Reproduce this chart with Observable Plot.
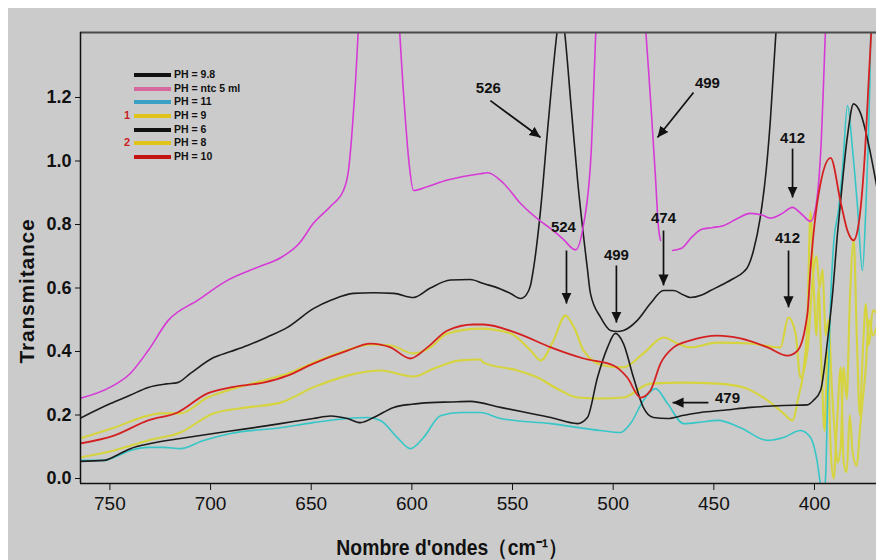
<!DOCTYPE html>
<html><head><meta charset="utf-8">
<script src="https://cdn.jsdelivr.net/npm/d3@7"></script>
<script src="https://cdn.jsdelivr.net/npm/@observablehq/plot@0.6"></script>
<style>
body{margin:0;background:#fff;}
#wrap{position:relative;width:876px;height:560px;overflow:hidden;
 background:linear-gradient(to bottom,#fff 8px,transparent 8px),linear-gradient(to right,#fff 8px,#cbcbcb 8px);
 font-family:"Liberation Sans",Arial,sans-serif;color:#111;}
#wrap svg{position:absolute;left:0;top:0;background:transparent;}
.ytitle{position:absolute;left:27px;top:291px;transform:translate(-50%,-50%) rotate(-90deg);font-weight:bold;font-size:21px;letter-spacing:0.8px;white-space:nowrap;}
.xtitle{position:absolute;left:452px;top:547px;transform:translate(-50%,-50%) scaleX(0.88);font-weight:bold;font-size:22px;white-space:nowrap;}
.legend{position:absolute;left:124px;top:68px;font-weight:bold;font-size:10.5px;}
.legend .row{position:relative;height:13.7px;}
.legend .num{position:absolute;left:0;top:0;color:#c81e1e;font-size:11px;line-height:13.7px;}
.legend .sw{position:absolute;left:10px;top:5px;width:37px;height:4px;}
.legend .lab{position:absolute;left:50px;top:0;line-height:13.7px;white-space:nowrap;}
</style></head>
<body>
<div id="wrap"></div>
<script>
// ---- data ----
const xTicks = [750, 700, 650, 600, 550, 500, 450, 400];
const yTicks = [0, 0.2, 0.4, 0.6, 0.8, 1.0, 1.2];
const seriesNames = ["PH = 9.8", "PH = ntc 5 ml", "PH = 11", "PH = 9", "PH = 6", "PH = 8", "PH = 10"];
const legendNums = ["", "", "", "1", "", "2", ""];
const curveColors = ["#1c1c1c", "#d63ad6", "#35c6c8", "#d6d43e", "#1c1c1c", "#d6d43e", "#d42020"];
const legendColors = ["#111111", "#d5689c", "#3aa0c4", "#e0c41c", "#111111", "#e0c41c", "#c41414"];

const ph98 = [[765,0.189],[749.7,0.236],[740,0.262],[731,0.287],[722,0.298],[716.4,0.302],[710,0.331],[698.5,0.381],[690,0.40],[681.7,0.419],[672,0.445],[661.8,0.476],[648.9,0.535],[640,0.562],[629,0.583],[619,0.585],[609,0.583],[599.2,0.57],[590.8,0.60],[580.8,0.625],[571,0.627],[564.4,0.614],[556,0.597],[551,0.583],[546,0.567],[543,0.58],[541,0.61],[539.6,0.66],[536,0.85],[532.6,1.096],[528,1.40],[526,1.5],[524,1.40],[521,1.18],[517.7,0.94],[512.8,0.66],[511.3,0.583],[506.3,0.508],[501.3,0.466],[498,0.463],[494.9,0.466],[488,0.498],[481.5,0.551],[475,0.592],[470,0.592],[465,0.578],[461.6,0.570],[456,0.578],[451.7,0.592],[446,0.61],[440.2,0.63],[435,0.652],[433.3,0.665],[430.3,0.718],[427,0.82],[424,0.97],[421.9,1.13],[419,1.42],[416,1.8]];
const phNtc = [[765,0.252],[750,0.287],[740,0.33],[731,0.403],[721,0.498],[706.5,0.561],[691.6,0.624],[676.7,0.665],[665,0.696],[656,0.74],[649,0.803],[640,0.86],[634,0.907],[631.5,0.97],[628,1.25],[625,1.6],[616,2.0],[608,1.6],[604,1.2],[601.5,1.0],[599.2,0.907],[592,0.92],[582.3,0.94],[566,0.96],[562.4,0.963],[554.5,0.93],[546,0.866],[536,0.81],[531,0.787],[525,0.755],[518.7,0.72],[515,0.79],[511,1.02],[508,1.5],[500,2.0],[485,1.5],[481,1.15],[479,0.95],[477.5,0.79],[476.5,0.75],[474,null],[470.5,0.718],[466,0.725],[461,0.76],[456,0.785],[451,0.79],[445,0.797],[438,0.82],[432,0.835],[426,0.83],[422,0.82],[416,0.835],[411,0.854],[406,0.83],[402,0.81],[399.5,0.85],[397,1.02],[394,1.5],[390,2.0]];
const ph11 = [[765,0.057],[753,0.057],[746,0.072],[739.8,0.088],[731,0.098],[723,0.098],[715,0.094],[703.5,0.12],[690,0.142],[665.3,0.16],[649,0.176],[632,0.189],[622,0.192],[615.6,0.183],[607.2,0.129],[600.7,0.094],[594.2,0.129],[585.8,0.198],[575.9,0.208],[566,0.208],[556,0.189],[531,0.173],[506.3,0.151],[496.4,0.145],[491.4,0.173],[485,0.246],[479,0.283],[473,0.236],[465,0.173],[456,0.178],[448,0.183],[436.8,0.16],[423.3,0.12],[415,0.13],[407,0.151],[402,0.129],[398.5,0.047],[397,-0.02],[395.5,-0.05],[394.5,0.003],[393.5,0.246],[392,0.56],[390.6,0.73],[388,0.85],[386,0.98],[383.6,1.175],[381,1.03],[378.6,0.853],[376.2,0.655],[374.5,0.85],[372.5,1.25],[371.5,1.6]];
const ph9 = [[765,0.126],[748,0.16],[731,0.198],[725,0.205],[715,0.205],[701.5,0.255],[690,0.28],[673.7,0.309],[661.8,0.33],[648.9,0.365],[632,0.405],[620.6,0.422],[610.6,0.419],[599.2,0.394],[590.8,0.413],[582.3,0.457],[566,0.472],[551,0.457],[541,0.403],[536,0.372],[530,0.43],[523.7,0.513],[519,0.47],[514.7,0.403],[504.8,0.356],[494.9,0.35],[485,0.394],[475,0.444],[468,0.425],[461.6,0.413],[448.2,0.428],[431.8,0.425],[416.9,0.413],[413,0.507],[409.4,0.457],[407,0.318],[403.5,0.403],[401,0.62],[399,0.70],[397.5,0.60],[396,0.66],[394.5,0.45],[393,0.50],[391.5,0.30],[390,0.15],[388.5,0.05],[387,0.10],[385.5,0.35],[384,0.25],[382.5,0.55],[380.5,0.75],[379,0.45],[377.5,0.20],[376,0.40],[374.5,0.55],[373,0.42],[371,0.53],[369,0.52]];
const ph6 = [[765,0.054],[753,0.057],[746,0.075],[739.8,0.094],[729.9,0.11],[715,0.126],[698.6,0.142],[681.7,0.157],[665.3,0.173],[648.9,0.189],[640.4,0.197],[632,0.189],[625.5,0.176],[619,0.192],[609,0.224],[600,0.234],[590.8,0.239],[580.8,0.241],[571,0.243],[556,0.224],[545,0.21],[531,0.192],[517.7,0.173],[512.8,0.192],[507.8,0.318],[502.8,0.413],[498.9,0.457],[494.9,0.425],[489.9,0.318],[485,0.224],[480,0.192],[473,0.189],[465,0.199],[456.6,0.208],[445,0.215],[431.8,0.224],[415.4,0.230],[403.5,0.232],[400.5,0.246],[397,0.277],[393.5,0.435],[391,0.583],[388.6,0.77],[387,0.876],[383.6,1.08],[380.6,1.18],[377.1,1.15],[372.2,1.024],[369,0.917]];
const ph8 = [[765,0.066],[748,0.088],[731,0.12],[715,0.145],[698.6,0.205],[681.7,0.224],[665.3,0.239],[649,0.287],[632,0.324],[615.6,0.34],[599.2,0.321],[589.3,0.346],[575.9,0.372],[566,0.375],[564.4,0.365],[547.5,0.34],[537.6,0.318],[526.2,0.277],[517.7,0.255],[506.3,0.252],[494.9,0.255],[481.5,0.299],[465,0.302],[448,0.299],[435.2,0.287],[423.3,0.246],[415.4,0.205],[411,0.183],[408,0.255],[405.5,0.34],[403.5,0.50],[402,0.84],[400.5,0.62],[399,0.45],[398,0.60],[396.5,0.35],[395,0.15],[393.5,0.40],[392,0.10],[390.5,0.0],[389,0.15],[387,0.35],[385.5,0.05],[384,0.02],[382.5,0.20],[381,0.08],[379,0.04],[377.5,0.15],[376,0.25],[374.5,0.35],[373,0.50],[371,0.45],[369,0.48]];
const ph10 = [[765,0.11],[748,0.135],[731,0.183],[716.4,0.208],[701.5,0.268],[690,0.287],[673.7,0.302],[661.8,0.324],[648.9,0.362],[632,0.403],[620.6,0.425],[610.6,0.413],[600.7,0.378],[592.3,0.413],[582.3,0.466],[569.4,0.485],[564.4,0.485],[547.5,0.457],[531,0.413],[514.7,0.378],[499.8,0.356],[493,0.318],[486.4,0.255],[481.5,0.277],[476.5,0.362],[470,0.413],[461.6,0.435],[448.2,0.450],[436.8,0.441],[423.3,0.413],[413.4,0.387],[408.4,0.403],[403.5,0.52],[402,0.66],[400,0.80],[397,0.93],[392,1.01],[387,0.87],[383.6,0.78],[380.6,0.75],[378.1,0.80],[375.2,1.0],[372.7,1.3],[371,1.5]];

const annotLabels = ["526", "499", "412", "524", "499", "474", "412", "479"];
const annotWn = [562, 453.2, 410.9, 524.7, 498.4, 475, 413.4, 443.2];
const annotT = [1.228, 1.244, 1.071, 0.79, 0.702, 0.819, 0.756, 0.252];
const arrowWn1 = [561, 460.1, 410.9, 523.2, 498.4, 475, 412.9, 452.7];
const arrowT1 = [1.19, 1.216, 1.039, 0.718, 0.671, 0.781, 0.718, 0.239];
const arrowWn2 = [536.1, 478, 410.9, 523.2, 498.4, 475, 412.9, 470.5];
const arrowT2 = [1.074, 1.074, 0.885, 0.551, 0.491, 0.608, 0.539, 0.239];

// ---- build ----
const xDom = [764.6, 369.2];
const yDom = [-0.0157, 1.4047];
const seriesData = [ph98, phNtc, ph11, ph9, ph6, ph8, ph10];
const toRows = (arr) => arr.map(([wn, T]) => ({wn, T}));
const drawOrder = [5, 3, 2, 4, 0, 1, 6];
const widths = [1.6, 1.6, 1.6, 2.1, 1.6, 2.1, 1.8];

const annots = annotLabels.map((label, i) => ({label, wn: annotWn[i], T: annotT[i]}));
const arrows = arrowWn1.map((w, i) => ({x1: w, y1: arrowT1[i], x2: arrowWn2[i], y2: arrowT2[i]}));

function headMarker(color) {
  const ns = "http://www.w3.org/2000/svg";
  const m = document.createElementNS(ns, "marker");
  m.setAttribute("viewBox", "-10 -5 10 10");
  m.setAttribute("markerWidth", "11");
  m.setAttribute("markerHeight", "11");
  m.setAttribute("markerUnits", "userSpaceOnUse");
  m.setAttribute("orient", "auto");
  m.setAttribute("refX", "0");
  m.setAttribute("refY", "0");
  const p = document.createElementNS(ns, "path");
  p.setAttribute("d", "M-10,-4.6L0,0L-10,4.6Z");
  p.setAttribute("fill", color);
  p.setAttribute("stroke", "none");
  m.appendChild(p);
  return m;
}

const marks = [];
for (const i of drawOrder) {
  marks.push(Plot.line(toRows(seriesData[i]), {x: "wn", y: "T", stroke: curveColors[i], strokeWidth: widths[i], curve: "monotone-x", clip: true}));
}
marks.push(
  Plot.ruleY([yDom[1]], {stroke: "#4a4a4a", strokeWidth: 2}),
  Plot.ruleY([yDom[0]], {stroke: "#111", strokeWidth: 1.5}),
  Plot.ruleX([xDom[0]], {stroke: "#111", strokeWidth: 1.5}),
  Plot.link(arrows, {x1: "x1", y1: "y1", x2: "x2", y2: "y2", stroke: "#111", strokeWidth: 1.7, markerEnd: headMarker}),
  Plot.text(annots, {x: "wn", y: "T", text: "label", fontSize: 15, fontWeight: "bold", fill: "#111"}),
  Plot.axisX({ticks: xTicks, tickSize: 7, tickPadding: 6, tickFormat: d3.format("d"), fontSize: 19, label: null, stroke: "#111"}),
  Plot.axisY({ticks: yTicks, tickSize: 5, tickPadding: 4, tickFormat: d3.format(".1f"), fontSize: 18, fontWeight: "bold", label: null, stroke: "#111"})
);

const chart = Plot.plot({
  width: 876, height: 560,
  marginLeft: 80, marginRight: 0, marginTop: 32, marginBottom: 77,
  style: {background: "transparent", fontFamily: "'Liberation Sans', Arial, sans-serif", color: "#111"},
  x: {domain: xDom},
  y: {domain: yDom},
  marks
});
const wrap = document.getElementById("wrap");
wrap.appendChild(chart);
chart.querySelectorAll('[aria-label="y-axis tick label"] text, [aria-label="y-axis tick label"]').forEach(e => e.setAttribute("font-weight", "bold"));

// legend
const leg = document.createElement("div");
leg.className = "legend";
seriesNames.forEach((name, i) => {
  const r = document.createElement("div"); r.className = "row";
  const n = document.createElement("span"); n.className = "num"; n.textContent = legendNums[i];
  const s = document.createElement("span"); s.className = "sw"; s.style.background = legendColors[i];
  const l = document.createElement("span"); l.className = "lab"; l.textContent = name;
  r.append(n, s, l); leg.appendChild(r);
});
wrap.appendChild(leg);

const yt = document.createElement("div"); yt.className = "ytitle"; yt.textContent = "Transmitance"; wrap.appendChild(yt);
const xt = document.createElement("div"); xt.className = "xtitle"; xt.textContent = "Nombre d'ondes（cm\u207B\u00B9）"; wrap.appendChild(xt);
</script>
</body></html>
